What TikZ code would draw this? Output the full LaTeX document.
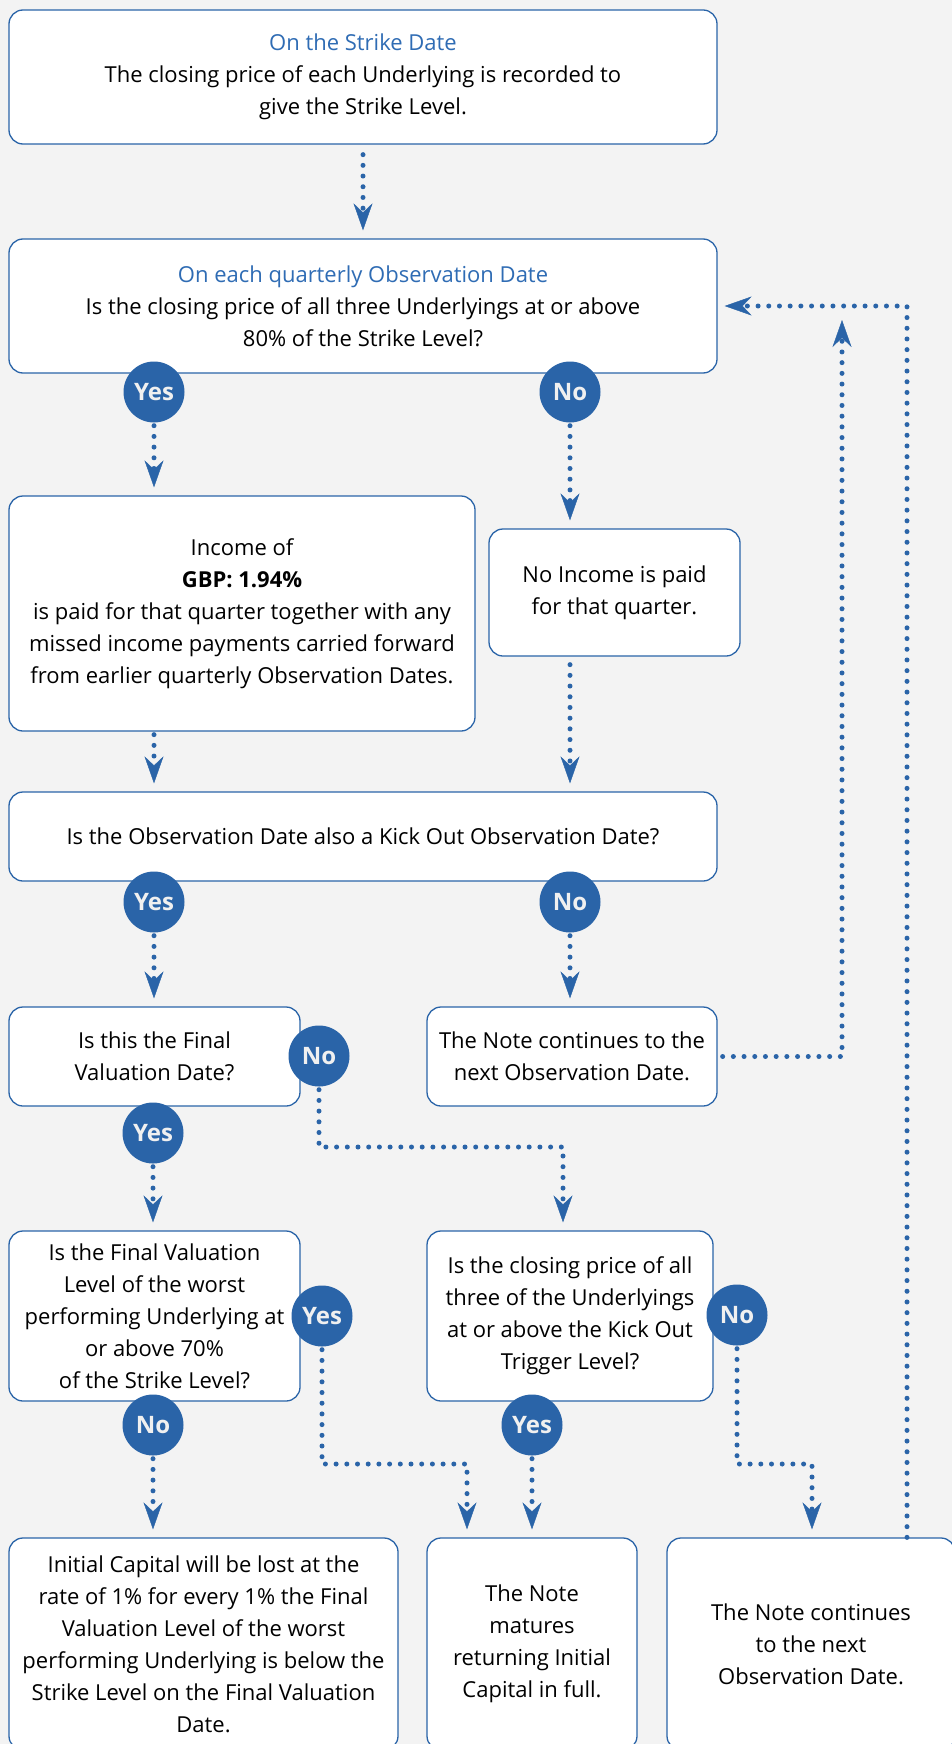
\documentclass[tikz,border=0pt]{standalone}
\usepackage{fontspec}
\setmainfont{Open Sans}
\usetikzlibrary{arrows.meta}
\usepackage{xcolor}
\definecolor{qblue}{HTML}{2A64A8}
\definecolor{headblue}{HTML}{2F6CB4}
\definecolor{pagegrey}{HTML}{F3F3F3}
\tikzset{
  box/.style={draw=qblue, fill=white, line width=1.3pt, rounded corners=14pt, inner sep=0pt, align=center},
  ans/.style={circle, fill=qblue, minimum size=61pt, inner sep=0pt, text=white!94!black, font=\fontsize{24}{24}\selectfont\bfseries},
  flow/.style={qblue, line width=5pt, line cap=round, dash pattern=on 0pt off 10.7pt,
    -{Stealth[length=27pt, width=19pt, inset=9pt, line width=0.4pt]}, shorten >=8pt},
}
\newcommand{\hd}[1]{\textcolor{headblue}{#1}}

\begin{document}
\begin{tikzpicture}[x=1pt, y=-1pt, font=\fontsize{22}{32}\selectfont]
  \useasboundingbox (0,0) rectangle (952,1744);
  \fill[pagegrey] (0,0) rectangle (952,1744);

  \node[box, minimum width=708pt, minimum height=134pt] (strike) at (363,77)
    {\hd{On the Strike Date}\\ The closing price of each Underlying is recorded to\\ give the Strike Level.};
  \node[box, minimum width=708pt, minimum height=134pt] (obs) at (363,306)
    {\hd{On each quarterly Observation Date}\\ Is the closing price of all three Underlyings at or above\\ 80\% of the Strike Level?};
  \node[box, minimum width=466pt, minimum height=235pt] (income) at (242,613.5)
    {Income of\\ \textbf{GBP: 1.94\%}\\ is paid for that quarter together with any\\ missed income payments carried forward\\ from earlier quarterly Observation Dates.};
  \node[box, minimum width=251pt, minimum height=127pt] (noincome) at (614.5,592.5)
    {No Income is paid\\ for that quarter.};
  \node[box, minimum width=708pt, minimum height=89pt] (kickq) at (363,836.5)
    {Is the Observation Date also a Kick Out Observation Date?};
  \node[box, minimum width=291pt, minimum height=99pt] (finalq) at (154.5,1056.5)
    {Is this the Final\\ Valuation Date?};
  \node[box, minimum width=290pt, minimum height=99pt] (cont) at (572,1056.5)
    {The Note continues to the\\ next Observation Date.};
  \node[box, minimum width=291pt, minimum height=170pt] (worstq) at (154.5,1316)
    {Is the Final Valuation\\ Level of the worst\\ performing Underlying at\\ or above 70\%\\ of the Strike Level?};
  \node[box, minimum width=286pt, minimum height=170pt] (trigq) at (570,1316)
    {Is the closing price of all\\ three of the Underlyings\\ at or above the Kick Out\\ Trigger Level?};
  \node[box, minimum width=389pt, minimum height=212pt] (loss) at (203.5,1644)
    {Initial Capital will be lost at the\\ rate of 1\% for every 1\% the Final\\ Valuation Level of the worst\\ performing Underlying is below the\\ Strike Level on the Final Valuation\\ Date.};
  \node[box, minimum width=210pt, minimum height=212pt] (mature) at (532,1644)
    {The Note\\ matures\\ returning Initial\\ Capital in full.};
  \node[box, minimum width=288pt, minimum height=212pt] (cont2) at (811,1644)
    {The Note continues\\ to the next\\ Observation Date.};

  % answer discs sit on the box edges, drawn before the lines start from them
  \foreach \nm/\px/\py/\txt in {yes1/154/392/Yes, no1/570/392/No, yes2/154/902/Yes,
      no2/570/902/No, no3/319/1056/No, yes3/153/1133/Yes, yes4/322/1316/Yes,
      no5/737/1315/No, no4/153/1425/No, yes5/532/1425/Yes}
    \node[ans] (\nm) at (\px,\py) {\txt};

  \coordinate (j1) at (563,1147);
  \coordinate (j2) at (467,1464);
  \coordinate (j3) at (812,1464);
  \coordinate (loopR) at (907,306);
  \coordinate (loopL) at (842,320);

  \draw[flow, shorten <=10pt] (strike) -- (obs);
  \draw[flow, shorten <=3pt] (yes1.south) -- (yes1.south |- income.north);
  \draw[flow, shorten <=3pt] (no1.south) -- (no1.south |- noincome.north);
  \draw[flow, shorten <=3pt] (income.south -| yes1) -- (kickq.north -| yes1);
  \draw[flow, shorten <=8pt] (noincome.south -| no1) -- (kickq.north -| no1);
  \draw[flow, shorten <=3pt] (yes2.south) -- (yes2.south |- finalq.north);
  \draw[flow, shorten <=3pt] (no2.south) -- (no2.south |- cont.north);
  \draw[flow, shorten <=3pt] (no3.south) |- (j1) -- (j1 |- trigq.north);
  \draw[flow, shorten <=3pt] (yes3.south) -- (yes3.south |- worstq.north);
  \draw[flow, shorten <=3pt] (yes4.south) |- (j2) -- (j2 |- mature.north);
  \draw[flow, shorten <=3pt] (no4.south) -- (no4.south |- loss.north);
  \draw[flow, shorten <=3pt] (yes5.south) -- (yes5.south |- mature.north);
  \draw[flow, shorten <=3pt] (no5.south) |- (j3) -- (j3 |- cont2.north);
  \draw[flow, shorten <=5pt, shorten >=0pt] (cont.east) -| (loopL);
  \draw[flow, shorten >=7pt] (loopR |- cont2.north) -- (loopR) -- (obs.east);
\end{tikzpicture}
\end{document}
